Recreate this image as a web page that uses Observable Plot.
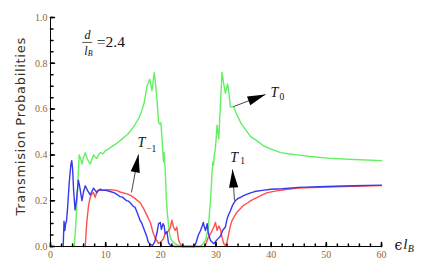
<!DOCTYPE html>
<html><head><meta charset="utf-8">
<script src="https://cdn.jsdelivr.net/npm/d3@7"></script>
<script src="https://cdn.jsdelivr.net/npm/@observablehq/plot@0.6"></script>
<style>body{margin:0;background:#fff}</style>
</head><body><div id="chart"></div>
<script>
// ---- data (x = ε l_B, y = transmission probability) ----
const T0 = [[4.3,0],[4.6,0.10],[4.9,0.25],[5.2,0.40],[5.5,0.38],[5.7,0.36],[6.0,0.39],[6.3,0.41],[6.7,0.38],[7.2,0.36],[7.5,0.38],[7.8,0.40],[8.1,0.39],[8.4,0.385],[8.7,0.40],[9.0,0.41],[9.5,0.405],[10,0.42],[10.5,0.425],[11,0.435],[12,0.45],[13,0.47],[14,0.49],[15,0.52],[16,0.56],[16.5,0.59],[17.0,0.63],[17.5,0.70],[18.0,0.73],[18.4,0.68],[18.8,0.76],[19.0,0.72],[19.3,0.64],[19.6,0.54],[19.8,0.535],[20.0,0.54],[20.2,0.48],[20.4,0.40],[20.5,0.37],[20.6,0.41],[20.8,0.33],[21.0,0.21],[21.2,0.14],[21.5,0.07],[21.7,0.04],[22.0,0.025],[22.6,0.012],[23.3,0.004],[24,0],[25,0],[26,0],[27.2,0],[28.1,0.026],[28.6,0.08],[29.0,0.20],[29.3,0.33],[29.45,0.37],[29.55,0.355],[29.7,0.40],[29.9,0.43],[30.2,0.53],[30.5,0.47],[30.8,0.62],[31.1,0.76],[31.4,0.71],[31.7,0.67],[32.1,0.71],[32.4,0.66],[32.6,0.61],[32.9,0.61],[33.2,0.61],[33.6,0.585],[34.0,0.565],[34.5,0.54],[35.5,0.505],[36.3,0.48],[37.5,0.46],[38.6,0.44],[40,0.425],[41.7,0.41],[43,0.405],[44.8,0.40],[47,0.393],[50.8,0.385],[55,0.38],[60,0.375]];
const T1 = [[2.3,0],[2.45,0.11],[2.6,0.07],[2.75,0.10],[2.9,0.11],[3.1,0.17],[3.4,0.28],[3.7,0.36],[3.85,0.375],[4.0,0.34],[4.2,0.24],[4.45,0.16],[4.7,0.20],[5.05,0.29],[5.3,0.26],[5.7,0.20],[6.0,0.24],[6.3,0.265],[6.7,0.245],[7.2,0.225],[7.5,0.24],[7.8,0.255],[8.1,0.245],[8.4,0.235],[8.7,0.245],[9.0,0.25],[9.5,0.245],[10,0.245],[10.8,0.24],[11.5,0.235],[12.2,0.225],[12.6,0.218],[13.0,0.216],[13.3,0.21],[13.8,0.20],[14.1,0.199],[14.5,0.19],[15.0,0.175],[15.3,0.172],[15.6,0.155],[16.0,0.13],[16.3,0.11],[16.5,0.105],[16.8,0.085],[17.2,0.06],[17.5,0.04],[17.7,0.02],[18.0,0.01],[18.5,0.005],[18.9,0.02],[19.3,0.06],[19.6,0.10],[19.9,0.105],[20.1,0.075],[20.4,0.10],[20.6,0.09],[20.8,0.055],[21.1,0.065],[21.4,0.015],[21.8,0.003],[22.5,0],[24,0],[26,0],[26.3,0.01],[26.8,0.05],[27.2,0.07],[27.5,0.09],[27.7,0.105],[27.9,0.085],[28.1,0.07],[28.4,0.10],[28.6,0.06],[29.0,0.026],[29.6,0.012],[30.2,0.03],[30.8,0.045],[31.2,0.07],[31.7,0.085],[32.0,0.12],[32.3,0.14],[32.6,0.155],[33.0,0.18],[33.5,0.20],[34.0,0.21],[34.5,0.215],[35,0.222],[36,0.232],[37,0.24],[38.4,0.245],[40,0.25],[42,0.252],[45,0.258],[50,0.262],[55,0.265],[60,0.268]];
const Tm1 = [[6.3,0],[6.5,0.08],[6.6,0.11],[6.9,0.18],[7.2,0.215],[7.5,0.23],[7.8,0.235],[8.1,0.215],[8.3,0.23],[8.5,0.245],[9.0,0.245],[10,0.248],[10.8,0.248],[12,0.245],[12.6,0.238],[13.9,0.23],[14.6,0.222],[15.3,0.21],[16.3,0.19],[17.0,0.16],[17.5,0.135],[18.1,0.105],[18.6,0.06],[19.0,0.035],[19.3,0.025],[19.6,0.013],[20.0,0.02],[20.5,0.035],[20.8,0.06],[21.1,0.06],[21.4,0.07],[21.7,0.08],[22.0,0.115],[22.3,0.085],[22.6,0.07],[22.9,0.085],[23.2,0.03],[23.5,0.012],[24.0,0],[26,0],[28.0,0],[28.3,0.02],[28.6,0.04],[29.0,0.055],[29.3,0.07],[29.6,0.085],[29.9,0.105],[30.2,0.07],[30.5,0.09],[30.8,0.075],[31.1,0.04],[31.4,0.013],[31.7,0.003],[32.0,0.02],[32.3,0.055],[32.6,0.09],[32.9,0.113],[33.3,0.13],[33.8,0.15],[34.4,0.165],[35,0.18],[35.7,0.19],[36.3,0.2],[37.5,0.215],[38.4,0.225],[39.3,0.235],[41,0.243],[43,0.25],[45,0.255],[50,0.26],[55,0.263],[60,0.266]];

const xTicks = [0,10,20,30,40,50,60];
const xTickLabels = ["0","10","20","30","40","50","60"];
const yTicks = [0,0.2,0.4,0.6,0.8,1.0];
const yTickLabels = ["0.0","0.2","0.4","0.6","0.8","1.0"];
const xMinor = d3.range(0,61,2);
const yMinor = d3.range(0,1.0001,0.05);
const yTitle = "Transmision Probabilities";

// ---- layout ----
const W = 436, H = 273, mL = 50, mR = 55, mT = 17, mB = 27;
const kx = (W - mL - mR) / 60, ky = (H - mT - mB) / 1;
const labelColor = "#9a6626";
const serif = "Liberation Serif, Times New Roman, serif";

const tickShape = {draw(ctx, l) { ctx.moveTo(0, 0); ctx.lineTo(0, -l); }};
const headSymbol = {draw(ctx) { const L = 18, w = 4.6; ctx.moveTo(0, 0); ctx.lineTo(w, L); ctx.lineTo(-w, L); ctx.closePath(); }};

const arrows = [
  {x1: 33.17, y1: 0.611, x2: 38.97, y2: 0.664},
  {x1: 33.35, y1: 0.201, x2: 32.99, y2: 0.336},
  {x1: 14.68, y1: 0.236, x2: 15.95, y2: 0.402}
].map(a => ({...a, rot: Math.atan2((a.x2 - a.x1) * kx, (a.y2 - a.y1) * ky) * 180 / Math.PI}));

const letters = [
  {x: 39.88, y: 0.672, t: "T"}, {x: 32.6, y: 0.389, t: "T"}, {x: 15.77, y: 0.454, t: "T"}
];
const subs = [
  {x: 41.5, y: 0.652, t: "0"}, {x: 34.4, y: 0.372, t: "1"}, {x: 17.35, y: 0.426, t: "\u22121"}
];

const line = (data, color) => Plot.line(data, {x: d => d[0], y: d => d[1], stroke: color, strokeWidth: 1.4, strokeLinejoin: "round"});

const chart = Plot.plot({
  width: W, height: H, marginLeft: mL, marginRight: mR, marginTop: mT, marginBottom: mB,
  x: {domain: [0, 60], axis: null},
  y: {domain: [0, 1], axis: null},
  style: {background: "white", overflow: "visible"},
  marks: [
    line(T0, "#62f062"),
    line(Tm1, "#ff4f4f"),
    line(T1, "#3838ee"),
    // axes lines
    Plot.ruleY([0], {x1: 0, x2: 60, stroke: "#000", strokeWidth: 1}),
    Plot.ruleX([0], {y1: 0, y2: 1, stroke: "#000", strokeWidth: 1}),
    // ticks
    Plot.vector(xMinor, {x: d => d, frameAnchor: "bottom", anchor: "start", length: 2.5, rotate: 0, shape: tickShape, stroke: "#000"}),
    Plot.vector(xTicks, {x: d => d, frameAnchor: "bottom", anchor: "start", length: 4, rotate: 0, shape: tickShape, stroke: "#000"}),
    Plot.vector(yMinor, {y: d => d, frameAnchor: "left", anchor: "start", length: 2.5, rotate: 90, shape: tickShape, stroke: "#000"}),
    Plot.vector(yTicks, {y: d => d, frameAnchor: "left", anchor: "start", length: 4, rotate: 90, shape: tickShape, stroke: "#000"}),
    // tick labels
    Plot.text(xTicks, {x: d => d, text: (d, i) => xTickLabels[i], frameAnchor: "bottom", lineAnchor: "top", dy: 4, fontSize: 10, fontFamily: serif, fill: labelColor}),
    Plot.text(yTicks, {y: d => d, text: (d, i) => yTickLabels[i], frameAnchor: "left", textAnchor: "end", dx: -3, fontSize: 10, fontFamily: serif, fill: labelColor}),
    // y title
    Plot.text([yTitle], {x: -5.45, y: 0.525, text: d => d, rotate: -90, fontSize: 13, fontFamily: "DejaVu Sans, sans-serif", fill: "#3a3020"}),
    // x label ϵ l_B
    Plot.text(["\u03f5"], {x: 62.35, y: 0.004, text: d => d, textAnchor: "start", fontSize: 14, fontFamily: "DejaVu Serif, serif", fill: "#111"}),
    Plot.text(["l"], {x: 63.95, y: 0.008, text: d => d, textAnchor: "start", fontSize: 15, fontStyle: "italic", fontFamily: serif, fill: "#111"}),
    Plot.text(["B"], {x: 64.75, y: -0.012, text: d => d, textAnchor: "start", fontSize: 10, fontStyle: "italic", fontFamily: serif, fill: "#111"}),
    // d / l_B = 2.4
    Plot.text(["d"], {x: 6.7, y: 0.922, text: d => d, fontSize: 12, fontStyle: "italic", fontFamily: serif, fill: "#111"}),
    Plot.ruleY([0.891], {x1: 5.85, x2: 7.65, stroke: "#333", strokeWidth: 0.8}),
    Plot.text(["l"], {x: 6.1, y: 0.855, text: d => d, textAnchor: "start", fontSize: 12, fontStyle: "italic", fontFamily: serif, fill: "#111"}),
    Plot.text(["B"], {x: 6.75, y: 0.842, text: d => d, textAnchor: "start", fontSize: 8, fontStyle: "italic", fontFamily: serif, fill: "#111"}),
    Plot.text(["=2.4"], {x: 8.4, y: 0.891, text: d => d, textAnchor: "start", fontSize: 15.5, fontFamily: serif, fill: "#111"}),
    // arrows
    Plot.link(arrows, {x1: "x1", y1: "y1", x2: "x2", y2: "y2", stroke: "#333", strokeWidth: 0.9}),
    Plot.dot(arrows, {x: "x2", y: "y2", symbol: headSymbol, rotate: "rot", fill: "#000", stroke: null}),
    // series labels
    Plot.text(letters, {x: "x", y: "y", text: "t", textAnchor: "start", fontSize: 14, fontStyle: "italic", fontFamily: serif, fill: "#111"}),
    Plot.text(subs, {x: "x", y: "y", text: "t", textAnchor: "start", fontSize: 9.5, fontFamily: serif, fill: "#111"})
  ]
});
document.getElementById("chart").appendChild(chart);
d3.select(chart).selectAll("text").filter(function() { return this.textContent === yTitle; }).attr("letter-spacing", "0.7px");
</script>
</body></html>
